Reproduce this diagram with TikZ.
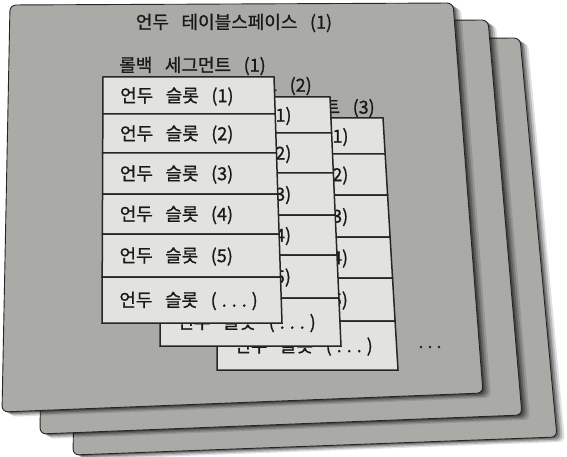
\documentclass[tikz,border=0pt]{standalone}
\usepackage{fontspec}
\newfontfamily\kr{Noto Sans CJK KR}[WordSpace=3.1,FakeBold=0.9]
\definecolor{sheetgray}{RGB}{170,170,167}
\definecolor{slotfill}{RGB}{226,226,222}
\definecolor{edgecol}{RGB}{38,38,38}
\definecolor{inkcol}{RGB}{25,25,25}
\newcommand{\slotdots}{(\hspace{5pt}.\hspace{5pt}.\hspace{5pt}.\hspace{5pt})}
\newcommand{\papersheet}[4]{%
  \foreach \s/\o in {8/0.12,6/0.16,4/0.22,2/0.3}{%
    \fill[black,opacity=\o,rounded corners=6pt,shift={(\s,\s*0.6)}] #1 -- #2 -- #3 -- #4 -- cycle;
  }%
  \filldraw[sheetbox] #1 -- #2 -- #3 -- #4 -- cycle;
}
\newcommand{\slotstack}[8]{%
  \foreach \ya/\yb/\lab/\i in {#8}{%
    \pgfmathsetmacro\xla{#2+(#3-#2)*(\ya-#6)/(#7-#6)}%
    \pgfmathsetmacro\xlb{#2+(#3-#2)*(\yb-#6)/(#7-#6)}%
    \pgfmathsetmacro\xra{#4+(#5-#4)*(\ya-#6)/(#7-#6)}%
    \pgfmathsetmacro\xrb{#4+(#5-#4)*(\yb-#6)/(#7-#6)}%
    \filldraw[slotbox] (\xla,\ya) -- (\xra,\ya) -- (\xrb,\yb) -- (\xlb,\yb) -- cycle;
    \node[slottext] (#1r\i) at ({\xla+17},{(\ya+\yb)/2+1}) {언두 슬롯 \lab};
  }%
}
\begin{document}
\begin{tikzpicture}[x=1pt,y=-1pt,
  sheetbox/.style={fill=sheetgray,draw=edgecol,line width=0.9pt,rounded corners=6pt},
  slotbox/.style={fill=slotfill,draw=edgecol,line width=1.5pt,line join=miter},
  slottext/.style={anchor=west,inner sep=0pt,text=inkcol,font=\kr\fontsize{18}{20}\selectfont},
  labeltext/.style={inner sep=0pt,text=inkcol,font=\kr\fontsize{18}{20}\selectfont}]
\useasboundingbox (0,0) rectangle (567,457);
\fill[white] (0,0) rectangle (567,457);
% sheets, back to front
\papersheet{(80,40)}{(520,38)}{(557,437)}{(73,455)}
\papersheet{(45,22)}{(488,20)}{(522,415)}{(40,434)}
\papersheet{(10,5)}{(453,3)}{(483,393)}{(2,412)}
% title
\node[labeltext] (title) at (234,23) {언두 테이블스페이스 (1)};
% rollback segment 3
\node[labeltext,anchor=east] (seg3) at (375,108) {롤백 세그먼트 (3)};
\slotstack{c}{218}{217}{383}{398}{118}{370}{118/154/(1)/1,154/195/(2)/2,195/237/(3)/3,237/278/(4)/4,278/321/(5)/5,321/370/\slotdots/6}
% rollback segment 2
\node[labeltext,anchor=east] (seg2) at (312,86) {롤백 세그먼트 (2)};
\slotstack{b}{161}{160}{330}{341}{97}{346}{97/133/(1)/1,133/173/(2)/2,173/215/(3)/3,215/255/(4)/4,255/298/(5)/5,298/346/\slotdots/6}
% rollback segment 1
\node[labeltext,anchor=east] (seg1) at (266,66) {롤백 세그먼트 (1)};
\slotstack{a}{103}{102}{274}{282}{77}{323}{77/114/(1)/1,114/153/(2)/2,153/194/(3)/3,194/234/(4)/4,234/277/(5)/5,277/323/\slotdots/6}
% more segments
\node[labeltext] (more) at (430,347) {.\hspace{4pt}.\hspace{4pt}.};
\end{tikzpicture}
\end{document}
